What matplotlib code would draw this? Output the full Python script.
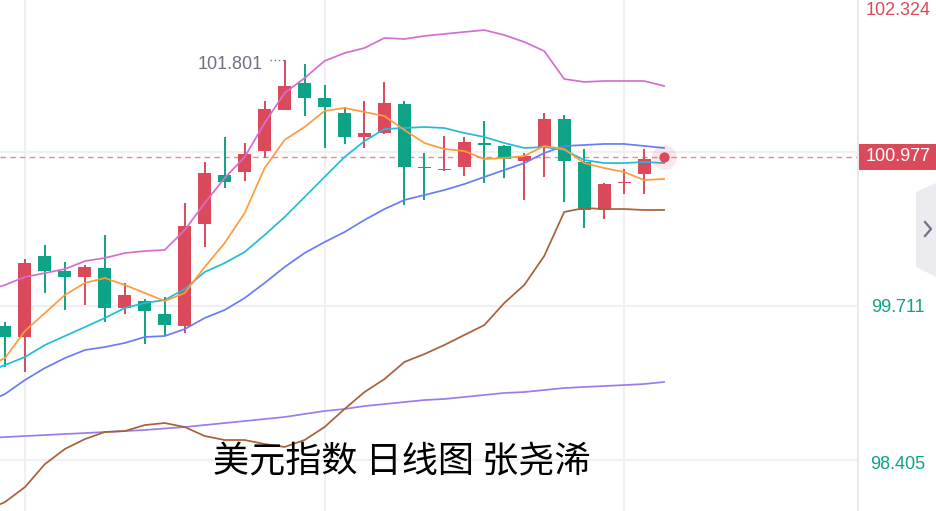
import numpy as np
import matplotlib
matplotlib.use('Agg')
import matplotlib.pyplot as plt
from matplotlib.patches import Polygon, Rectangle
from matplotlib.lines import Line2D

plt.rcParams['font.family'] = ['Liberation Sans', 'DejaVu Sans']

# daily candles, red = up day, green = down day
opens = [99.541, 99.448, 100.135, 100.007, 99.957, 100.033, 99.694, 99.753, 99.643, 99.541,
         100.406, 100.822, 100.847, 101.025, 101.373, 101.602, 101.475, 101.348, 101.144, 101.178,
         101.424, 100.885, 100.860, 100.890, 101.089, 101.068, 100.940, 101.059, 101.297, 100.932,
         100.525, 100.750, 100.830]
highs = [99.575, 100.109, 100.228, 100.084, 100.058, 100.313, 99.906, 99.770, 99.787, 100.584,
         100.932, 101.144, 101.093, 101.449, 101.801, 101.763, 101.585, 101.398, 101.449, 101.611,
         101.449, 101.008, 101.152, 101.144, 101.280, 101.076, 101.008, 101.348, 101.331, 101.042,
         100.754, 100.873, 101.042]
lows = [99.193, 99.151, 99.821, 99.677, 99.719, 99.575, 99.643, 99.388, 99.456, 99.482,
        100.211, 100.711, 100.771, 100.966, 101.373, 101.322, 101.051, 101.085, 101.051, 101.169,
        100.567, 100.610, 100.856, 100.813, 100.754, 100.796, 100.610, 100.805, 100.593, 100.372,
        100.448, 100.660, 100.660]
closes = [99.448, 100.075, 100.007, 99.957, 100.041, 99.694, 99.804, 99.668, 99.549, 100.389,
          100.839, 100.762, 101.000, 101.381, 101.577, 101.475, 101.398, 101.144, 101.178, 101.432,
          100.890, 100.877, 100.868, 101.102, 101.080, 100.957, 100.983, 101.297, 100.940, 100.525,
          100.745, 100.758, 100.957]

# indicator lines, first value is the day just left of the view, last is today
ma5 = [99.193, 99.269, 99.499, 99.651, 99.804, 99.906, 99.948, 99.889, 99.821, 99.753,
       99.821, 100.041, 100.245, 100.499, 100.881, 101.119, 101.229, 101.365, 101.390, 101.356,
       101.322, 101.203, 101.093, 101.042, 101.025, 100.957, 100.966, 100.983, 101.068, 101.042,
       100.923, 100.881, 100.847, 100.779, 100.788]
ma10 = [99.142, 99.210, 99.278, 99.380, 99.456, 99.532, 99.609, 99.694, 99.736, 99.761,
        99.855, 99.999, 100.075, 100.169, 100.313, 100.465, 100.635, 100.805, 100.974, 101.110,
        101.212, 101.220, 101.229, 101.220, 101.178, 101.144, 101.093, 101.051, 101.059, 101.034,
        100.949, 100.923, 100.923, 100.932, 100.923]
boll_mid = [98.888, 98.964, 99.083, 99.185, 99.269, 99.337, 99.363, 99.397, 99.448, 99.456,
            99.515, 99.609, 99.677, 99.778, 99.906, 100.041, 100.160, 100.253, 100.338, 100.440,
            100.533, 100.610, 100.652, 100.694, 100.745, 100.805, 100.864, 100.923, 101.008, 101.068,
            101.076, 101.085, 101.085, 101.068, 101.051]
boll_up = [99.838, 99.889, 99.957, 99.990, 100.024, 100.092, 100.118, 100.160, 100.177, 100.186,
           100.355, 100.584, 100.796, 100.974, 101.263, 101.517, 101.644, 101.789, 101.856, 101.899,
           101.984, 101.975, 102.001, 102.018, 102.035, 102.051, 102.009, 101.950, 101.873, 101.636,
           101.611, 101.619, 101.619, 101.619, 101.577]
boll_low = [97.972, 98.048, 98.175, 98.370, 98.498, 98.582, 98.642, 98.650, 98.701, 98.718,
            98.684, 98.608, 98.574, 98.574, 98.540, 98.515, 98.574, 98.684, 98.837, 98.981,
            99.091, 99.236, 99.303, 99.380, 99.465, 99.549, 99.736, 99.889, 100.135, 100.508,
            100.542, 100.533, 100.533, 100.525, 100.525]
ma_long = [98.591, 98.599, 98.608, 98.616, 98.625, 98.633, 98.642, 98.650, 98.659, 98.672,
           98.684, 98.701, 98.718, 98.735, 98.752, 98.769, 98.795, 98.820, 98.837, 98.862,
           98.879, 98.896, 98.913, 98.922, 98.939, 98.956, 98.973, 98.981, 98.998, 99.015,
           99.024, 99.032, 99.040, 99.049, 99.066]

last_price = 100.977
peak_price = 101.801
peak_day = 14
price_levels = [98.405, 99.711, 101.017, 102.324]
side_labels = ['102.324', '99.711', '98.405']
title = '美元指数 日线图 张尧浠'

RED = '#db4a5b'
GREEN = '#0ea386'
GRAY = '#6e7283'
W, H = 936, 511

fig = plt.figure(figsize=(W / 100, H / 100), dpi=100)
ax = fig.add_axes([0, 0, 858 / W, 1])
ax.set_xlim(-0.25, 42.71)
ax.set_ylim(97.972, 102.306)

for lvl in price_levels:
    ax.axhline(lvl, color='#f0f0f4', lw=1.5, zorder=0)
for d in [1, 16, 31]:
    ax.axvline(d, color='#f0f0f4', lw=1.5, zorder=0)

days = np.arange(len(opens))
o, h, l, c = map(np.array, (opens, highs, lows, closes))
colors = np.where(c >= o, RED, GREEN)
ax.vlines(days, l, h, colors=colors, lw=1.4, zorder=2)
body = np.maximum(np.abs(c - o), 0.013)
ax.bar(days, body, bottom=np.minimum(o, c), width=0.65, color=colors, lw=0, zorder=3)

line_days = np.arange(-1, len(ma5) - 1)
line_styles = [(ma_long, '#9b7ce9'), (boll_low, '#a9603a'), (boll_mid, '#6a7cf5'),
               (boll_up, '#d46fd0'), (ma10, '#22bcd8'), (ma5, '#ff9b3d')]
for vals, col in line_styles:
    ax.plot(line_days, vals, color=col, lw=1.25, zorder=4)

ax.axhline(last_price, color='#f2868e', lw=1.0, ls=(0, (4, 3)), zorder=1)
ax.scatter([line_days[-1]], [last_price], s=320, color=RED, alpha=0.12, lw=0, zorder=5)
ax.scatter([line_days[-1]], [last_price], s=55, color=RED, lw=0, zorder=6)

# peak marker
ax.plot([peak_day - 0.72, peak_day - 0.05], [peak_price, peak_price], color=GRAY,
        ls=(0, (1, 2)), lw=1.0, zorder=5)
ax.annotate(f'{peak_price:.3f}', xy=(peak_day - 0.72, peak_price), xytext=(-7, -5),
            textcoords='offset pixels', ha='right', va='center', fontsize=13, color=GRAY)

for s in ['top', 'left', 'bottom']:
    ax.spines[s].set_visible(False)
ax.spines['right'].set_color('#e8e8ee')
ax.spines['right'].set_linewidth(1.5)
ax.set_xticks([])
ax.set_yticks([])

# right price scale
ylo, yhi = ax.get_ylim()
def fy(p):
    return (p - ylo) / (yhi - ylo)

fig.text(898 / W, 1 - 2 / H, side_labels[0], ha='center', va='top', fontsize=13, color=RED)
fig.text(898 / W, fy(float(side_labels[1])) - 2 / H, side_labels[1], ha='center', va='center',
         fontsize=13, color=GREEN)
fig.text(898 / W, fy(float(side_labels[2])) - 5 / H, side_labels[2], ha='center', va='center',
         fontsize=13, color=GREEN)

fig.patches.append(Rectangle((859 / W, fy(last_price) - 13 / H), 77 / W, 26 / H,
                             transform=fig.transFigure, color=RED, lw=0))
fig.text(898 / W, fy(last_price), f'{last_price:.3f}', ha='center', va='center',
         fontsize=13, color='white')

# collapse tab at the right edge
tab = [(916, 192), (936, 183), (936, 277), (916, 267)]
fig.patches.append(Polygon([(x / W, 1 - y / H) for x, y in tab], closed=True,
                           transform=fig.transFigure, color='#ececf0', lw=0))
fig.lines.append(Line2D([925 / W, 931 / W, 925 / W], [1 - 222 / H, 1 - 229 / H, 1 - 236 / H],
                        transform=fig.transFigure, color=GRAY, lw=1.6))

fig.text(402 / W, 1 - 462 / H, title, ha='center', va='center', fontsize=26,
         family=['Noto Sans CJK SC', 'DejaVu Sans'], color='black')

fig.savefig('out.png', dpi=100)
